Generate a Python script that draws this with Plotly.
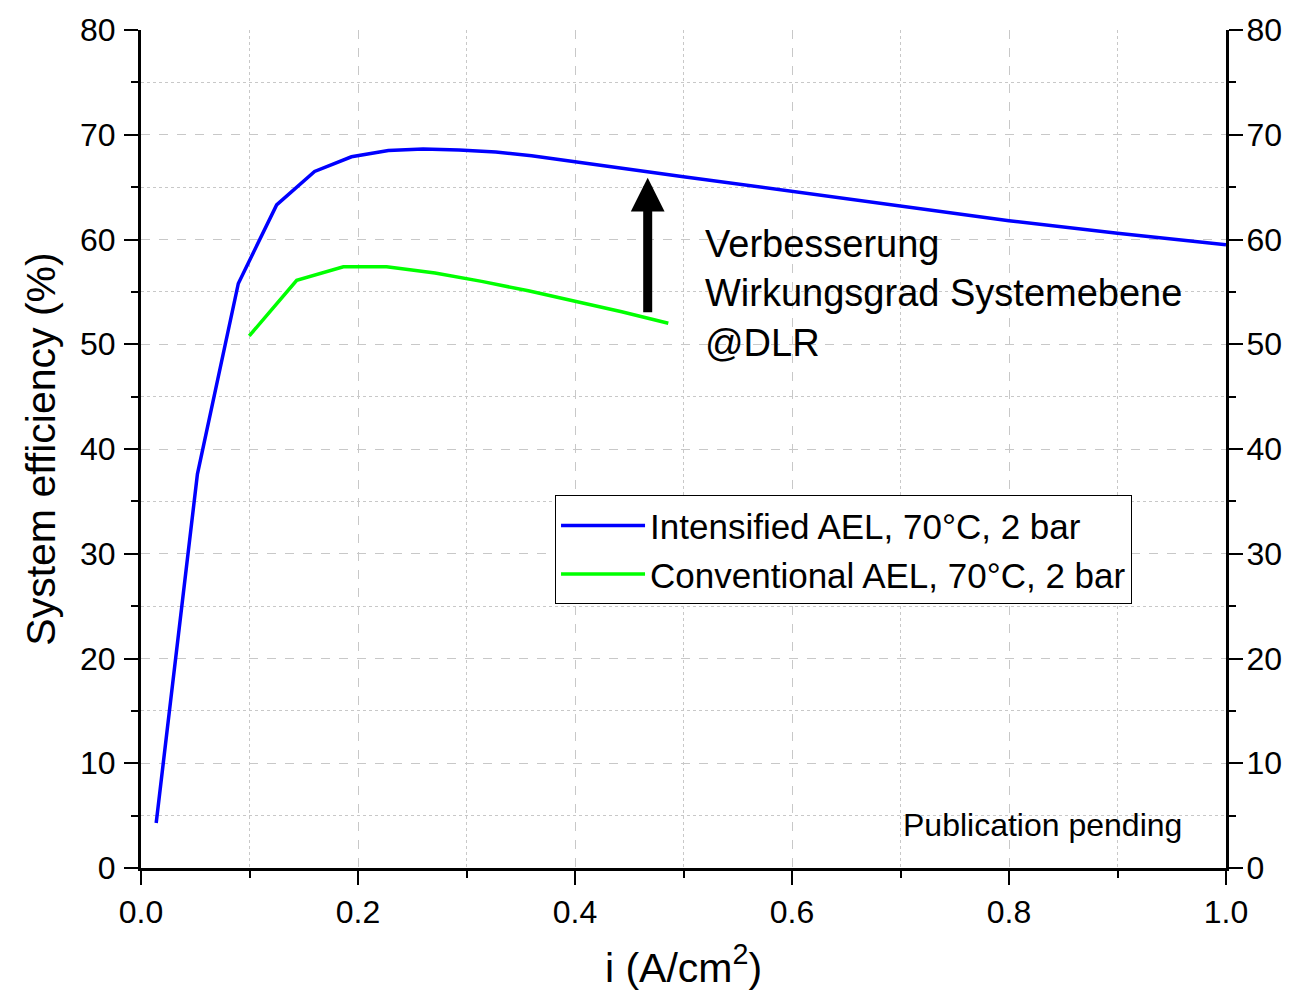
import plotly.graph_objects as go

# Data
blue_x = [0.014, 0.052, 0.0897, 0.125, 0.160, 0.194, 0.228, 0.260, 0.293, 0.327, 0.36, 0.40,
          0.45, 0.50, 0.55, 0.60, 0.70, 0.80, 0.90, 1.00]
blue_y = [4.3, 37.6, 55.8, 63.3, 66.5, 67.9, 68.5, 68.65, 68.55, 68.35, 68.0, 67.4,
          66.7, 66.0, 65.3, 64.6, 63.2, 61.8, 60.6, 59.5]
green_x = [0.0998, 0.1435, 0.1865, 0.2264, 0.271, 0.314, 0.357, 0.40, 0.443, 0.486]
green_y = [50.8, 56.1, 57.4, 57.4, 56.8, 56.0, 55.1, 54.1, 53.1, 52.0]

blue_name = "Intensified AEL, 70°C, 2 bar"
green_name = "Conventional AEL, 70°C, 2 bar"
annot_text = "Verbesserung<br>Wirkungsgrad Systemebene<br>@DLR"
pub_text = "Publication pending"
x_title = "i (A/cm<sup>2</sup>)"
y_title = "System efficiency (%)"

FONT = "Arial, Liberation Sans, sans-serif"

fig = go.Figure()
fig.add_trace(go.Scatter(x=blue_x, y=blue_y, mode="lines", name=blue_name,
                         line=dict(color="#0000FF", width=3.5)))
fig.add_trace(go.Scatter(x=green_x, y=green_y, mode="lines", name=green_name,
                         line=dict(color="#00FF00", width=3.5)))
# invisible trace to activate right y-axis
fig.add_trace(go.Scatter(x=blue_x, y=blue_y, yaxis="y2", mode="lines", opacity=0,
                         showlegend=False, hoverinfo="skip", line=dict(width=0)))

grid_major = dict(showgrid=True, gridcolor="#c8c8c8", gridwidth=1, griddash="dash")
minor_y = dict(dtick=5, ticklen=7, tickwidth=2, tickcolor="black", ticks="outside",
               showgrid=True, gridcolor="#c8c8c8", gridwidth=1, griddash="dot")

fig.update_layout(
    width=1304, height=995,
    margin=dict(l=141, r=78, t=23, b=127),
    paper_bgcolor="white", plot_bgcolor="white",
    font=dict(family=FONT, color="black", size=32),
    xaxis=dict(range=[0, 1], dtick=0.2, tickformat=".1f",
               showline=True, linecolor="black", linewidth=3,
               ticks="outside", ticklen=14, tickwidth=2, tickcolor="black",
               tickfont=dict(size=32), zeroline=False,
               minor=dict(dtick=0.1, ticklen=7, tickwidth=2, tickcolor="black", ticks="outside",
                          showgrid=True, gridcolor="#c8c8c8", gridwidth=1, griddash="dot"),
               title=dict(text=x_title, font=dict(size=41), standoff=24),
               **grid_major),
    yaxis=dict(range=[0, 80], dtick=10,
               showline=True, linecolor="black", linewidth=3,
               ticks="outside", ticklen=14, tickwidth=2, tickcolor="black",
               tickfont=dict(size=32), zeroline=False, ticklabelstandoff=2,
               minor=minor_y,
               title=dict(text=y_title, font=dict(size=41), standoff=12),
               **grid_major),
    yaxis2=dict(range=[0, 80], dtick=10, overlaying="y", side="right",
                showline=True, linecolor="black", linewidth=3,
                ticks="outside", ticklen=14, tickwidth=2, tickcolor="black",
                tickfont=dict(size=32), zeroline=False, showgrid=False, ticklabelstandoff=-3,
                minor=dict(dtick=5, ticklen=7, tickwidth=2, tickcolor="black", ticks="outside")),
    legend=dict(x=0.3816, y=0.4447, xanchor="left", yanchor="top",
                bordercolor="black", borderwidth=1, bgcolor="white",
                font=dict(size=35), itemwidth=84, tracegroupgap=0),
    showlegend=True,
)

fig.add_annotation(x=0.467, y=65.9, ax=0.467, ay=52.9, xref="x", yref="y",
                   axref="x", ayref="y", text="", showarrow=True,
                   arrowhead=2, arrowwidth=9, arrowsize=0.75, arrowcolor="black")
fig.add_annotation(x=0.518, y=54.8, xref="x", yref="y", text=annot_text,
                   showarrow=False, xanchor="left", yanchor="middle", align="left",
                   font=dict(size=38, color="black"))
fig.add_annotation(x=0.70, y=4.1, xref="paper", yref="y", text=pub_text,
                   showarrow=False, xanchor="left", yanchor="middle",
                   font=dict(size=32, color="black"))

fig.write_html("out.html")
